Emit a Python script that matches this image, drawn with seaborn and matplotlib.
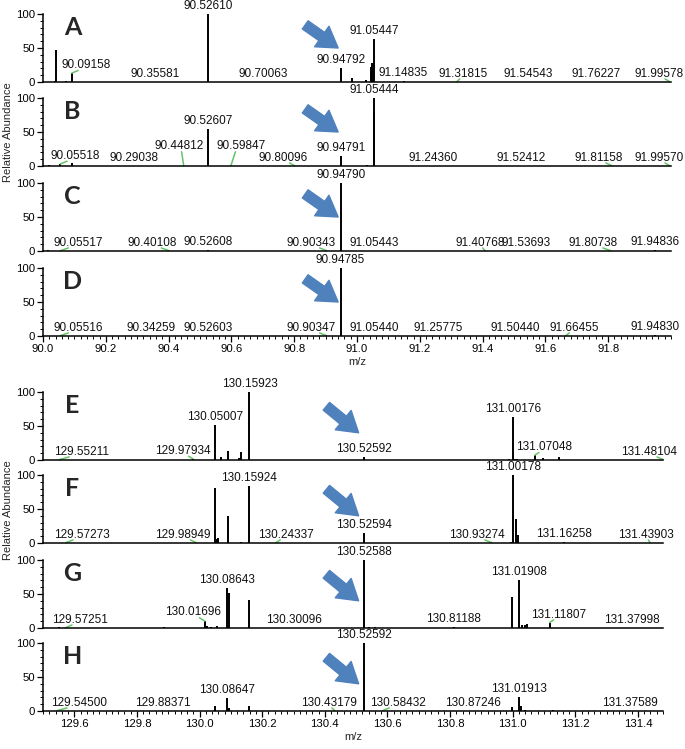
import numpy as np
import pandas as pd
import seaborn as sns
import matplotlib.pyplot as plt
from matplotlib.ticker import MultipleLocator, FormatStrFormatter

# peaks (m/z, relative abundance) and the labelled m/z values
A_mz = [90.0380, 90.0414, 90.0730, 90.09158, 90.35581, 90.52610, 90.70063, 90.94792,
        90.9840, 91.0290, 91.0450, 91.0490, 91.05447, 91.14835, 91.31815, 91.54543,
        91.76227, 91.99578]
A_int = [2, 47, 2, 13, 0.5, 100, 0.5, 20, 6, 3, 22, 28, 63, 1, 0.5, 0.5, 0.5, 0.5]
A_lab = ['90.09158', '90.35581', '90.52610', '90.70063', '90.94792', '91.05447',
         '91.14835', '91.31815', '91.54543', '91.76227', '91.99578']

B_mz = [90.0200, 90.05518, 90.0916, 90.29038, 90.44812, 90.52607, 90.59847, 90.80096,
        90.94791, 91.0320, 91.0535, 91.05444, 91.24360, 91.52412, 91.81158, 91.99570]
B_int = [2, 3, 4, 0.5, 0.5, 55, 0.5, 0.5, 15, 2, 80, 100, 0.5, 0.5, 0.5, 0.5]
B_lab = ['90.05518', '90.29038', '90.44812', '90.52607', '90.59847', '90.80096',
         '90.94791', '91.05444', '91.24360', '91.52412', '91.81158', '91.99570']

C_mz = [90.0150, 90.05517, 90.40108, 90.52608, 90.90343, 90.94790, 91.05443, 91.40768,
        91.53693, 91.80738, 91.94836]
C_int = [1.5, 0.5, 0.5, 1.5, 0.5, 100, 0.5, 0.5, 0.5, 0.5, 1.5]
C_lab = ['90.05517', '90.40108', '90.52608', '90.90343', '90.94790', '91.05443',
         '91.40768', '91.53693', '91.80738', '91.94836']

D_mz = [90.05516, 90.34259, 90.52603, 90.90347, 90.94785, 91.05440, 91.25775, 91.50440,
        91.66455, 91.94830]
D_int = [0.5, 0.5, 0.5, 0.5, 100, 0.5, 0.5, 0.5, 0.5, 1.5]
D_lab = ['90.05516', '90.34259', '90.52603', '90.90347', '90.94785', '91.05440',
         '91.25775', '91.50440', '91.66455', '91.94830']

E_mz = [129.55211, 129.97934, 130.05007, 130.0690, 130.0910, 130.1250, 130.1330, 130.15923,
        130.52592, 130.9890, 131.00176, 131.0060, 131.0130, 131.07048, 131.0970, 131.1490,
        131.48104]
E_int = [0.5, 1.5, 52, 4, 13, 3, 12, 100, 4, 2, 63, 2, 1.5, 7, 3, 4, 0.5]
E_lab = ['129.55211', '129.97934', '130.05007', '130.15923', '130.52592', '131.00176',
         '131.07048', '131.48104']

F_mz = [129.57273, 129.98949, 130.0500, 130.0560, 130.0600, 130.0910, 130.1330, 130.15924,
        130.24337, 130.52594, 130.93274, 130.9950, 131.00178, 131.0100, 131.0170, 131.16258,
        131.43903]
F_int = [0.5, 0.5, 81, 6, 7, 40, 2, 84, 0.5, 14, 0.5, 2, 100, 35, 12, 2, 0.5]
F_lab = ['129.57273', '129.98949', '130.15924', '130.24337', '130.52594', '130.93274',
         '131.00178', '131.16258', '131.43903']

G_mz = [129.5500, 129.57251, 129.8850, 130.01696, 130.0250, 130.0350, 130.0550, 130.08643,
        130.0950, 130.1580, 130.30096, 130.52588, 130.5400, 130.5600, 130.81188, 130.9990,
        131.01908, 131.0300, 131.0380, 131.0450, 131.11807, 131.37998]
G_int = [2, 0.5, 2, 10, 3, 2, 3, 59, 52, 41, 0.5, 100, 2, 2, 2, 45, 70, 4, 5, 6, 8, 0.5]
G_lab = ['129.57251', '130.01696', '130.08643', '130.30096', '130.52588', '130.81188',
         '131.01908', '131.11807', '131.37998']

H_mz = [129.54500, 129.88371, 130.0500, 130.08647, 130.0950, 130.1580, 130.43179, 130.52592,
        130.58432, 130.87246, 130.9990, 131.01913, 131.0260, 131.0400, 131.1300, 131.37589]
H_int = [0.5, 0.5, 7, 19, 4, 8, 0.5, 100, 0.5, 0.5, 6, 20, 7, 2, 2, 0.5]
H_lab = ['129.54500', '129.88371', '130.08647', '130.43179', '130.52592', '130.58432',
         '130.87246', '131.01913', '131.37589']

top_ticks = [90.0, 90.2, 90.4, 90.6, 90.8, 91.0, 91.2, 91.4, 91.6, 91.8]
bottom_ticks = [129.6, 129.8, 130.0, 130.2, 130.4, 130.6, 130.8, 131.0, 131.2, 131.4]
y_ticks = [0, 50, 100]

# label layout: shift along m/z and optional height, as the instrument software did
nudge = {'90.09158': (0.045, None), '91.31815': (0.02, None), '91.99578': (-0.033, None),
         '90.05518': (0.048, None), '90.44812': (-0.015, 20), '90.59847': (0.032, 20),
         '90.80096': (-0.035, None), '91.81158': (-0.042, None), '91.99570': (-0.033, None),
         '90.05517': (0.057, None), '90.40108': (-0.054, None), '90.90343': (-0.05, None),
         '91.40768': (-0.016, None), '91.80738': (-0.054, None), '90.05516': (0.057, None),
         '90.90347': (-0.05, None), '91.66455': (0.026, None), '129.55211': (0.07, None),
         '129.97934': (-0.032, None), '131.07048': (0.029, None), '131.48104': (-0.045, None),
         '129.57273': (0.051, None), '129.98949': (-0.042, None), '130.24337': (0.032, None),
         '130.93274': (-0.048, None), '131.43903': (-0.013, None), '129.57251': (0.045, None),
         '130.01696': (-0.038, 14), '131.11807': (0.029, None), '129.54500': (0.07, None),
         '130.43179': (-0.02, None), '130.58432': (0.048, None)}

sns.set_theme(style='ticks')
plt.rcParams['font.family'] = ['Liberation Sans', 'DejaVu Sans']

W, Hpx = 685, 749
fig = plt.figure(figsize=(6.85, 7.49), dpi=100)

panels = [('A', A_mz, A_int, A_lab, 82, 'top'), ('B', B_mz, B_int, B_lab, 166, 'top'),
          ('C', C_mz, C_int, C_lab, 251, 'top'), ('D', D_mz, D_int, D_lab, 336, 'top'),
          ('E', E_mz, E_int, E_lab, 460, 'bot'), ('F', F_mz, F_int, F_lab, 543, 'bot'),
          ('G', G_mz, G_int, G_lab, 628, 'bot'), ('H', H_mz, H_int, H_lab, 711, 'bot')]

groups = {'top': dict(xlim=(90.0, 92.0), right=671, ticks=top_ticks,
                      arrow=((90.835, 84), (90.94, 50)), last='D'),
          'bot': dict(xlim=(129.5, 131.48), right=663, ticks=bottom_ticks,
                      arrow=((130.405, 79), (130.508, 40)), last='H')}

blue = '#4f81bd'
green = '#66c466'

for letter, mz, inten, labs, base, grp in panels:
    g = groups[grp]
    ax = fig.add_axes([43 / W, 1 - base / Hpx, (g['right'] - 43) / W, 68 / Hpx])
    df = pd.DataFrame({'mz': mz, 'intensity': inten})
    ax.vlines(df['mz'], 0, df['intensity'], color='black', lw=1.4, clip_on=False)
    ax.set_xlim(*g['xlim'])
    ax.set_ylim(0, 100)
    sns.despine(ax=ax)
    for s in ['left', 'bottom']:
        ax.spines[s].set_linewidth(1.1)
        ax.spines[s].set_color('black')

    ax.set_yticks(y_ticks)
    ax.yaxis.set_minor_locator(MultipleLocator(10))
    ax.tick_params(axis='y', which='major', length=4, width=0.9, labelsize=8.2, pad=1.5,
                   colors='black')
    ax.tick_params(axis='y', which='minor', length=2.5, width=0.7, colors='black')

    if letter == g['last']:
        ax.set_xticks(g['ticks'])
        ax.xaxis.set_major_formatter(FormatStrFormatter('%.1f'))
        ax.xaxis.set_minor_locator(MultipleLocator(0.02))
        ax.tick_params(axis='x', which='major', length=4, width=0.9, labelsize=8.2, pad=2,
                       colors='black')
        ax.tick_params(axis='x', which='minor', length=2.5, width=0.7, colors='black')
        ax.set_xlabel('m/z', fontsize=8, labelpad=2)
    else:
        ax.tick_params(axis='x', which='both', bottom=False, labelbottom=False)

    # peak labels
    for lab in labs:
        m = float(lab)
        h = df.loc[(df['mz'] - m).abs() < 0.003, 'intensity'].max()
        h = 0 if np.isnan(h) else h
        dx, ylab = nudge.get(lab, (0, None))
        y = h + 3 if ylab is None else ylab
        ax.text(m + dx, y, lab, ha='center', va='bottom', fontsize=8.5, color='#111111',
                clip_on=False)
        if dx != 0:
            ax.plot([m, m + dx * 0.45], [h, y + 1], color=green, lw=1.1, clip_on=False)

    ax.text(0.047, 0.8, letter, transform=ax.transAxes, ha='center', va='center',
            fontsize=18, fontweight='bold', family=['Lato', 'DejaVu Sans'])

    tail, tip = g['arrow']
    ax.annotate('', xy=tip, xytext=tail, annotation_clip=False,
                arrowprops=dict(arrowstyle='simple,head_length=1.2,head_width=1.5,tail_width=0.6',
                                color=blue, mutation_scale=12, shrinkA=0, shrinkB=0))

fig.text(8 / W, 1 - 132 / Hpx, 'Relative Abundance', rotation=90, ha='center', va='center',
         fontsize=8)
fig.text(8 / W, 1 - 510 / Hpx, 'Relative Abundance', rotation=90, ha='center', va='center',
         fontsize=8)

fig.savefig('out.png', dpi=100)
